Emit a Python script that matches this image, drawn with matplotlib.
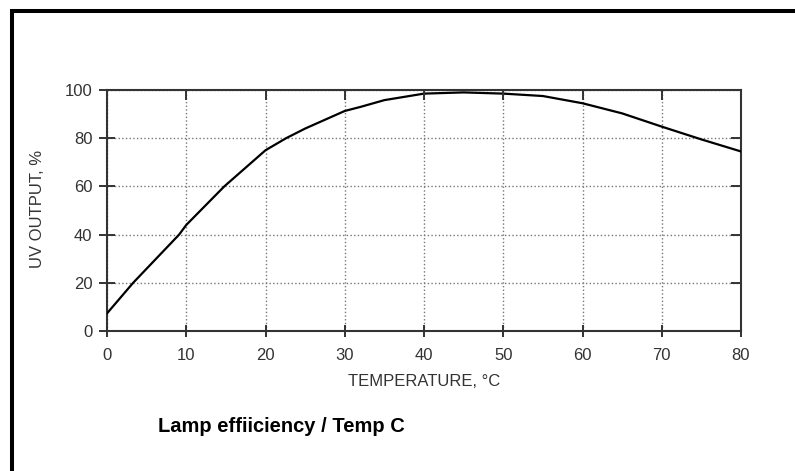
import matplotlib.pyplot as plt
from matplotlib.lines import Line2D

# UV output (%) vs lamp temperature (deg C)
temp_c = [0, 3.3, 9.1, 10, 14.8, 20, 22.6, 25, 30, 32, 35, 40, 45, 50, 55, 60, 65, 70, 75, 80]
uv_out = [7.3, 20, 40, 44, 60, 75, 80, 84, 91.3, 93, 95.8, 98.5, 99, 98.5, 97.5, 94.5, 90.3, 84.8, 79.5, 74.5]

x_ticks = [0, 10, 20, 30, 40, 50, 60, 70, 80]
y_ticks = [0, 20, 40, 60, 80, 100]

W, H = 795, 471
fig = plt.figure(figsize=(W / 100, H / 100), dpi=100)
fig.patch.set_facecolor('white')
plt.rcParams['font.family'] = ['Liberation Sans', 'DejaVu Sans']

# cropped black frame: only top and left edges show
fig.add_artist(Line2D([12 / W, 12 / W], [0, 1 - 9 / H], transform=fig.transFigure,
                      color='black', lw=2.9, solid_capstyle='butt'))
fig.add_artist(Line2D([10 / W, 1], [1 - 11 / H, 1 - 11 / H], transform=fig.transFigure,
                      color='black', lw=2.9, solid_capstyle='butt'))

ax = fig.add_axes([107 / W, 1 - 331 / H, (741 - 107) / W, (331 - 90) / H])
ax.plot(temp_c, uv_out, color='black', lw=1.6, zorder=3)

ax.set_xlim(0, 80)
ax.set_ylim(0, 100)
ax.set_xticks(x_ticks)
ax.set_yticks(y_ticks)
ax.grid(True, color='#777777', ls=':', lw=1.0)

for s in ax.spines.values():
    s.set_color('#333333')
    s.set_linewidth(1.5)

ax.tick_params(axis='y', direction='inout', length=11, width=1.4, color='#333333',
               labelsize=12, labelcolor='#333333', pad=5)
ax.tick_params(axis='x', direction='inout', length=9, width=1.4, color='#333333',
               labelsize=12, labelcolor='#333333', pad=8)

# top and right ticks point inward only
axt = ax.twiny()
axt.set_xlim(ax.get_xlim())
axt.set_xticks(x_ticks)
axt.tick_params(axis='x', direction='in', length=7, width=1.4, color='#333333',
                labeltop=False)
axr = ax.twinx()
axr.set_ylim(ax.get_ylim())
axr.set_yticks(y_ticks)
axr.tick_params(axis='y', direction='in', length=7, width=1.4, color='#333333',
                labelright=False)
for a in (axt, axr):
    for s in a.spines.values():
        s.set_visible(False)

fig.text(424 / W, 1 - 381 / H, 'TEMPERATURE, \u00b0C', ha='center', va='center',
         fontsize=12, color='#333333')
fig.text(38 / W, 1 - 209 / H, 'UV OUTPUT, %', ha='center', va='center', rotation=90,
         fontsize=12, color='#333333')
fig.text(158 / W, 1 - 427 / H, 'Lamp effiiciency / Temp C', ha='left', va='center',
         fontsize=14.5, fontweight='bold', color='black')

fig.savefig('out.png', dpi=100)
